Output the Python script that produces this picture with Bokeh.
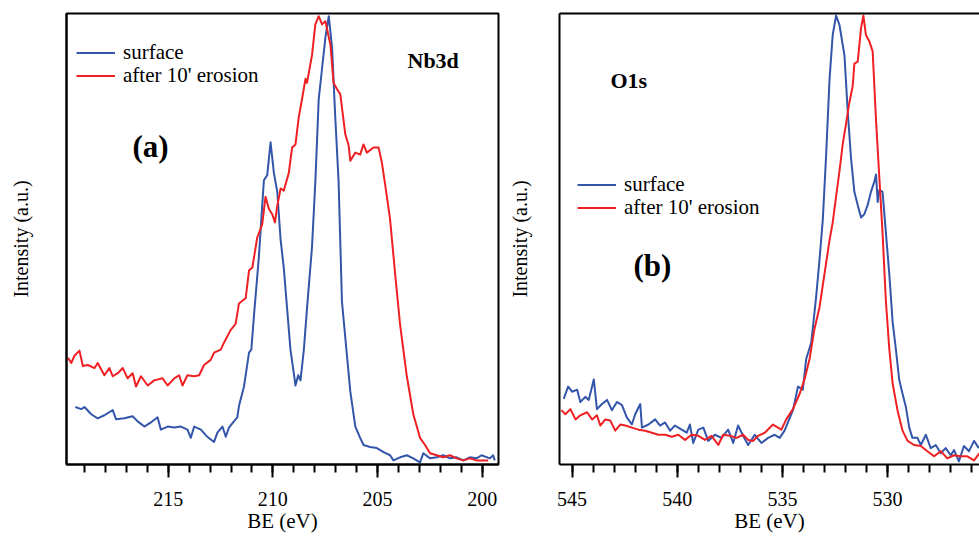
from bokeh.plotting import figure
from bokeh.models import (Range1d, LinearAxis, FixedTicker,
                          Legend, LegendItem, Label)
from bokeh.layouts import row
from bokeh.embed import file_html
from bokeh.resources import INLINE

# ---------------- data ----------------
nb_be_surface = [219.44, 219.16, 219.00, 218.68, 218.37, 218.05, 217.65, 217.49, 217.10, 216.70,
                 216.46, 216.14, 215.83, 215.51, 215.35, 215.03, 214.71, 214.40, 214.08, 213.92,
                 213.76, 213.44, 213.13, 212.81, 212.65, 212.41, 212.25, 212.10, 211.86, 211.70,
                 211.62, 211.38, 211.14, 211.03, 210.90, 210.67, 210.43, 210.27, 210.11, 209.95,
                 209.79, 209.63, 209.48, 209.32, 209.16, 209.00, 208.92, 208.79, 208.68, 208.52,
                 208.37, 208.13, 207.97, 207.81, 207.65, 207.49, 207.33, 207.17, 207.02, 206.86,
                 206.70, 206.46, 206.30, 206.06, 205.83, 205.67, 205.35, 205.03, 204.71, 204.40,
                 204.24, 203.92, 203.60, 203.29, 202.97, 202.81, 202.49, 202.17, 201.86, 201.54,
                 201.22, 200.90, 200.59, 200.27, 200.03, 199.63, 199.48, 199.40]
nb_int_surface = [56, 54, 56, 49, 45, 48, 53, 44, 45, 47,
                  42, 37, 41, 46, 34, 37, 36, 37, 34, 26,
                  37, 34, 27, 22, 31, 37, 27, 36, 42, 46,
                  57, 76, 109, 112, 146, 202, 277, 282, 314, 284,
                  266, 219, 192, 152, 112, 89, 77, 87, 82, 112,
                  152, 212, 276, 356, 386, 416, 437, 406, 339, 276,
                  159, 106, 71, 37, 26, 19, 17, 16, 12, 9,
                  4, 7, 9, 6, 2, 11, 6, 7, 9, 6,
                  7, 4, 7, 6, 9, 6, 9, 4]

nb_be_eroded = [219.79, 219.63, 219.48, 219.24, 219.08, 218.84, 218.52, 218.37, 218.05, 217.81,
                217.65, 217.41, 217.17, 216.94, 216.70, 216.54, 216.30, 215.98, 215.67, 215.27,
                215.03, 214.71, 214.48, 214.32, 214.08, 213.76, 213.52, 213.29, 212.97, 212.81,
                212.49, 212.33, 212.02, 211.78, 211.62, 211.30, 211.14, 210.98, 210.75, 210.51,
                210.35, 210.19, 210.03, 209.90, 209.79, 209.63, 209.48, 209.24, 209.08, 208.92,
                208.76, 208.60, 208.44, 208.37, 208.13, 207.97, 207.81, 207.65, 207.49, 207.25,
                207.10, 206.94, 206.78, 206.54, 206.38, 206.30, 206.06, 205.83, 205.67, 205.51,
                205.19, 204.95, 204.79, 204.63, 204.40, 204.16, 203.92, 203.60, 203.29, 202.97,
                202.73, 202.49, 202.17, 201.86, 201.54, 201.22, 200.90, 200.59, 200.27, 200.03,
                199.71]
nb_int_eroded = [104, 99, 106, 111, 96, 97, 94, 99, 87, 94,
                 86, 89, 94, 84, 89, 76, 86, 77, 82, 84,
                 77, 84, 87, 77, 87, 86, 87, 97, 102, 109,
                 112, 119, 131, 137, 157, 162, 189, 192, 221, 234,
                 261, 249, 244, 236, 252, 269, 267, 284, 309, 312,
                 339, 357, 376, 372, 399, 429, 437, 429, 432, 409,
                 372, 366, 361, 322, 311, 296, 304, 302, 312, 304,
                 309, 309, 294, 272, 239, 186, 136, 86, 49, 26,
                 19, 11, 9, 7, 9, 6, 4, 6, 4, 4,
                 4]

o_be_surface = [545.40, 545.19, 545.00, 544.76, 544.61, 544.37, 544.21, 543.97, 543.82, 543.58,
                543.34, 543.11, 542.87, 542.63, 542.40, 542.16, 542.00, 541.76, 541.68, 541.37,
                541.05, 540.82, 540.58, 540.34, 540.11, 539.79, 539.55, 539.40, 539.24, 539.00,
                538.76, 538.53, 538.21, 537.90, 537.58, 537.34, 537.11, 536.87, 536.63, 536.32,
                536.00, 535.68, 535.37, 535.13, 534.90, 534.74, 534.50, 534.26, 534.03, 533.87,
                533.63, 533.40, 533.24, 533.08, 532.92, 532.76, 532.61, 532.45, 532.29, 532.05,
                531.90, 531.74, 531.58, 531.42, 531.26, 531.11, 530.95, 530.79, 530.63, 530.55,
                530.47, 530.39, 530.24, 530.08, 529.92, 529.76, 529.61, 529.45, 529.29, 529.13,
                528.97, 528.82, 528.58, 528.42, 528.18, 527.95, 527.71, 527.47, 527.24, 527.00,
                526.84, 526.61, 526.37, 526.13, 525.89, 525.66]
o_int_surface = [64, 76, 71, 73, 61, 66, 63, 83, 54, 59,
                 63, 53, 61, 58, 46, 39, 49, 59, 36, 39,
                 44, 38, 41, 33, 38, 34, 31, 39, 21, 34,
                 36, 23, 29, 26, 34, 21, 38, 28, 19, 29,
                 21, 26, 29, 26, 33, 41, 53, 76, 73, 103,
                 119, 163, 199, 239, 303, 376, 419, 438, 429, 399,
                 346, 299, 266, 253, 241, 244, 253, 266, 276, 283,
                 256, 268, 266, 226, 186, 139, 113, 83, 69, 56,
                 36, 26, 26, 19, 29, 16, 19, 11, 16, 9,
                 14, 3, 18, 13, 23, 16]

o_be_eroded = [545.51, 545.32, 545.08, 544.84, 544.61, 544.29, 544.05, 543.82, 543.66, 543.42,
               543.19, 542.95, 542.71, 542.47, 542.16, 541.84, 541.53, 541.21, 540.90, 540.58,
               540.26, 539.95, 539.63, 539.32, 539.00, 538.68, 538.37, 538.05, 537.82, 537.50,
               537.18, 536.87, 536.63, 536.40, 536.16, 535.84, 535.45, 535.05, 534.82, 534.50,
               534.18, 533.95, 533.71, 533.47, 533.24, 533.00, 532.76, 532.61, 532.45, 532.29,
               532.13, 531.97, 531.82, 531.66, 531.58, 531.42, 531.26, 531.15, 531.03, 530.87,
               530.71, 530.55, 530.39, 530.24, 530.08, 529.92, 529.76, 529.53, 529.29, 529.05,
               528.74, 528.42, 528.11, 527.79, 527.47, 527.16, 526.84, 526.53, 526.21, 525.89,
               525.63]
o_int_eroded = [53, 49, 54, 44, 48, 51, 44, 48, 38, 44,
                43, 33, 39, 38, 36, 34, 33, 31, 29, 29,
                27, 29, 24, 29, 28, 24, 28, 19, 29, 28,
                26, 29, 24, 23, 28, 31, 39, 34, 44, 54,
                69, 83, 103, 133, 153, 186, 219, 236, 261, 286,
                313, 333, 353, 369, 391, 393, 426, 438, 419, 413,
                403, 336, 279, 226, 159, 113, 79, 53, 33, 23,
                19, 18, 13, 8, 13, 6, 9, 8, 8, 4,
                11]

nb_major_ticks = [215, 210, 205, 200]
nb_minor_ticks = [219, 218, 217, 216, 215, 214, 213, 212, 211, 210,
                  209, 208, 207, 206, 205, 204, 203, 202, 201, 200]
o_major_ticks = [545, 540, 535, 530]
o_minor_ticks = [545, 544, 543, 542, 541, 540, 539, 538, 537, 536, 535,
                 534, 533, 532, 531, 530, 529, 528, 527, 526]

series_labels = ["surface", "after 10' erosion"]
x_title = "BE (eV)"
y_title = "Intensity (a.u.)"

# ---------------- styling ----------------
BLUE = "#3356aa"
RED = "#ee2024"
FONT = "Liberation Serif"
FS = "20px"


def style_xaxis(ax, majors, minors):
    ax.ticker = FixedTicker(ticks=majors, minor_ticks=minors)
    ax.axis_line_width = 2
    ax.axis_line_color = "black"
    ax.major_tick_out = 13
    ax.major_tick_in = 0
    ax.minor_tick_out = 8
    ax.minor_tick_in = 0
    ax.major_tick_line_width = 2
    ax.minor_tick_line_width = 2
    ax.major_tick_line_color = "black"
    ax.minor_tick_line_color = "black"
    ax.major_label_text_font = FONT
    ax.major_label_text_font_size = FS
    ax.major_label_text_color = "black"
    ax.major_label_standoff = 14
    ax.axis_label = x_title
    ax.axis_label_text_font = FONT
    ax.axis_label_text_font_size = "21px"
    ax.axis_label_text_font_style = "normal"
    ax.axis_label_text_color = "black"
    ax.axis_label_standoff = 0


def style_yaxis(ax, standoff):
    ax.ticker = FixedTicker(ticks=[])
    ax.major_tick_out = 0
    ax.major_tick_in = 0
    ax.minor_tick_out = 0
    ax.minor_tick_in = 0
    ax.major_label_standoff = 0
    ax.axis_line_color = "black"
    ax.axis_line_width = 2
    ax.axis_label = y_title
    ax.axis_label_text_font = FONT
    ax.axis_label_text_font_size = FS
    ax.axis_label_text_font_style = "normal"
    ax.axis_label_text_color = "black"
    ax.axis_label_standoff = standoff


def legend_row(label, renderer, loc):
    lg = Legend(items=[LegendItem(label=label, renderers=[renderer])], location=loc)
    lg.border_line_color = None
    lg.background_fill_alpha = 0
    lg.padding = 0
    lg.margin = 0
    lg.spacing = 0
    lg.glyph_width = 39
    lg.glyph_height = 23
    lg.label_height = 23
    lg.label_standoff = 8
    lg.label_text_font = FONT
    lg.label_text_font_size = "21px"
    lg.label_text_color = "black"
    return lg


def bold_label(x, y, text, size):
    return Label(x=x, y=y, x_units="screen", y_units="screen", text=text,
                 text_font=FONT, text_font_style="bold", text_font_size=size,
                 text_baseline="middle", text_color="black")


# ---------------- panel (a) ----------------
p1 = figure(width=505, height=537, x_range=Range1d(219.86, 199.22), y_range=Range1d(0, 439.6),
            output_backend="svg", toolbar_location=None,
            min_border_left=66, min_border_right=7, min_border_top=13, min_border_bottom=73)
p1.background_fill_color = "white"
p1.border_fill_color = "white"
p1.xgrid.visible = False
p1.ygrid.visible = False
p1.outline_line_color = "black"
p1.outline_line_width = 2
p1.outline_line_alpha = 1
style_xaxis(p1.xaxis[0], nb_major_ticks, nb_minor_ticks)
style_yaxis(p1.yaxis[0], 35)

r1s = p1.line(nb_be_surface, nb_int_surface, line_color=BLUE, line_width=2, line_join="round")
r1e = p1.line(nb_be_eroded, nb_int_eroded, line_color=RED, line_width=2, line_join="round")
p1.add_layout(legend_row(series_labels[0], r1s, (10, 399)))
p1.add_layout(legend_row(series_labels[1], r1e, (10, 376)))
p1.add_layout(bold_label(341, 404, "Nb3d", "22px"))
p1.add_layout(bold_label(66, 318, "(a)", "31px"))

# ---------------- panel (b) ----------------
p2 = figure(width=474, height=537, x_range=Range1d(545.6, 525.63), y_range=Range1d(0, 440),
            output_backend="svg", toolbar_location=None,
            min_border_left=52, min_border_right=0, min_border_top=13, min_border_bottom=73)
p2.background_fill_color = "white"
p2.border_fill_color = "white"
p2.xgrid.visible = False
p2.ygrid.visible = False
p2.outline_line_color = None
style_xaxis(p2.xaxis[0], o_major_ticks, o_minor_ticks)
style_yaxis(p2.yaxis[0], 29)
top_axis = LinearAxis(ticker=FixedTicker(ticks=[]), major_tick_out=0, major_tick_in=0,
                      minor_tick_out=0, minor_tick_in=0, axis_line_width=2,
                      axis_line_color="black", major_label_standoff=0)
p2.add_layout(top_axis, "above")

r2s = p2.line(o_be_surface, o_int_surface, line_color=BLUE, line_width=2, line_join="round")
r2e = p2.line(o_be_eroded, o_int_eroded, line_color=RED, line_width=2, line_join="round")
p2.add_layout(legend_row(series_labels[0], r2s, (18, 267)))
p2.add_layout(legend_row(series_labels[1], r2e, (18, 244)))
p2.add_layout(bold_label(51, 384, "O1s", "22px"))
p2.add_layout(bold_label(74, 199, "(b)", "31px"))

layout = row(p1, p2)
open("out.html", "w").write(file_html(layout, INLINE))
